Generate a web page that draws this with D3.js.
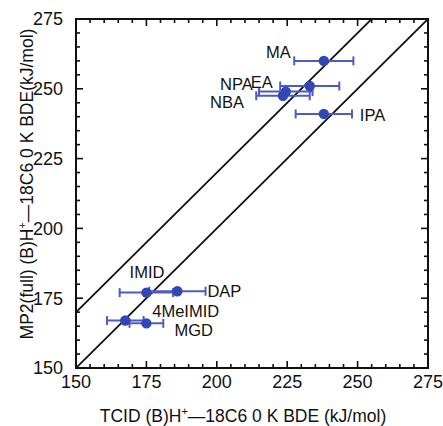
<!DOCTYPE html>
<html>
<head>
<meta charset="utf-8">
<script src="https://cdn.jsdelivr.net/npm/d3@7"></script>
<style>
  html, body { margin: 0; padding: 0; background: #fff; }
  svg { display: block; }
  text { font-family: "Liberation Sans", Arial, Helvetica, sans-serif; fill: #111; }
</style>
</head>
<body>
<svg id="chart" width="443" height="426"></svg>
<script>
// Compound labels and bond dissociation energies (kJ/mol)
const compounds = ["MA", "EA", "NPA", "NBA", "IPA", "IMID", "DAP", "4MeIMID", "MGD"];
const tcidBDE   = [238, 233, 224.5, 223.5, 238, 175, 186, 167.5, 175];
const tcidErr   = [10.5, 10.5, 9.5, 9.5, 10, 9.5, 10, 6.5, 6];
const mp2BDE    = [260, 251, 249, 247.5, 241, 177, 177.5, 167, 166];

const xTicks = [150, 175, 200, 225, 250, 275];
const yTicks = [150, 175, 200, 225, 250, 275];
const domain = [150, 275];
// Reference lines: perfect agreement, and the same shifted up
const lineOffsets = [0, 20];

// Label placement (pixels from each point)
const labelLayout = {
  "MA":      { dx: -33, dy: -2.5, anchor: "end" },
  "EA":      { dx: -37, dy: 1.5,  anchor: "end" },
  "NPA":     { dx: -33, dy: -1.5, anchor: "end" },
  "NBA":     { dx: -39, dy: 12.5, anchor: "end" },
  "IPA":     { dx: 36,  dy: 7.5,  anchor: "start" },
  "IMID":    { dx: 18,  dy: -14.5, anchor: "end" },
  "DAP":     { dx: 30,  dy: 5.5,  anchor: "start" },
  "4MeIMID": { dx: 27,  dy: -3.5, anchor: "start" },
  "MGD":     { dx: 28,  dy: 13,   anchor: "start" }
};

const margin = { left: 76, top: 19, right: 15, bottom: 58 };
const svg = d3.select("#chart");
const W = 443, H = 426;
const iw = W - margin.left - margin.right;
const ih = H - margin.top - margin.bottom;

const x = d3.scaleLinear().domain(domain).range([0, iw]);
const y = d3.scaleLinear().domain(domain).range([ih, 0]);

const g = svg.append("g").attr("transform", `translate(${margin.left},${margin.top})`);

svg.append("defs").append("clipPath").attr("id", "plotClip")
  .append("rect").attr("width", iw).attr("height", ih);

// Frame
g.append("rect").attr("width", iw).attr("height", ih)
  .attr("fill", "none").attr("stroke", "#111").attr("stroke-width", 2);

// Tick marks on all four sides, pointing inward (major every 25, minor every 5)
const tickVals = d3.range(150, 276, 5);
const tickLen = v => (v % 25 === 0 ? 7 : 4);
const tw = 1.6;
const ticks = g.append("g").attr("class", "ticks");
ticks.selectAll("rect.b").data(tickVals).join("rect").attr("class", "b")
  .attr("x", d => x(d) - tw / 2).attr("width", tw)
  .attr("y", d => ih - tickLen(d)).attr("height", d => tickLen(d));
ticks.selectAll("rect.t").data(tickVals).join("rect").attr("class", "t")
  .attr("x", d => x(d) - tw / 2).attr("width", tw)
  .attr("y", 0).attr("height", d => tickLen(d));
ticks.selectAll("rect.l").data(tickVals).join("rect").attr("class", "l")
  .attr("y", d => y(d) - tw / 2).attr("height", tw)
  .attr("x", 0).attr("width", d => tickLen(d));
ticks.selectAll("rect.r").data(tickVals).join("rect").attr("class", "r")
  .attr("y", d => y(d) - tw / 2).attr("height", tw)
  .attr("x", d => iw - tickLen(d)).attr("width", d => tickLen(d));
ticks.selectAll("rect").attr("fill", "#111");

// Tick labels
g.append("g").selectAll("text").data(xTicks).join("text")
  .attr("x", d => x(d)).attr("y", ih + 19.5)
  .attr("text-anchor", "middle").attr("font-size", 18).text(d => d);
g.append("g").selectAll("text").data(yTicks).join("text")
  .attr("x", -13).attr("y", d => y(d)).attr("dy", "0.35em")
  .attr("text-anchor", "end").attr("font-size", 18).text(d => d);

// Diagonal reference lines
g.append("g").attr("clip-path", "url(#plotClip)")
  .selectAll("line").data(lineOffsets).join("line")
  .attr("x1", x(domain[0] - 30)).attr("y1", d => y(domain[0] - 30 + d))
  .attr("x2", x(domain[1] + 30)).attr("y2", d => y(domain[1] + 30 + d))
  .attr("stroke", "#111").attr("stroke-width", 1.8);

// Horizontal error bars with caps
const pts = compounds.map((c, i) => ({ c, x: tcidBDE[i], e: tcidErr[i], y: mp2BDE[i] }));
const barColor = "#4d5cc0";
const eb = g.append("g").attr("stroke", barColor).attr("stroke-width", 2).attr("fill", "none");
pts.forEach(p => {
  const yy = y(p.y);
  eb.append("line").attr("x1", x(p.x - p.e)).attr("x2", x(p.x + p.e)).attr("y1", yy).attr("y2", yy);
  [p.x - p.e, p.x + p.e].forEach(v => {
    eb.append("line").attr("x1", x(v)).attr("x2", x(v)).attr("y1", yy - 4.5).attr("y2", yy + 4.5);
  });
});

// Points
g.append("g").selectAll("circle").data(pts).join("circle")
  .attr("cx", d => x(d.x)).attr("cy", d => y(d.y)).attr("r", 5.2)
  .attr("fill", "#3347b4");

// Point labels
g.append("g").selectAll("text").data(pts).join("text")
  .attr("x", d => x(d.x) + labelLayout[d.c].dx)
  .attr("y", d => y(d.y) + labelLayout[d.c].dy)
  .attr("text-anchor", d => labelLayout[d.c].anchor)
  .attr("font-size", 16.5)
  .text(d => d.c);

// Axis titles
const xt = svg.append("text").attr("x", 243).attr("y", 422)
  .attr("text-anchor", "middle").attr("font-size", 17.5);
xt.append("tspan").text("TCID (B)H");
xt.append("tspan").attr("font-size", 11).attr("dy", -7).text("+");
xt.append("tspan").attr("dy", 7).text("\u201418C6 0 K BDE (kJ/mol)");

const yt = svg.append("text").attr("transform", "translate(33,184) rotate(-90)")
  .attr("text-anchor", "middle").attr("font-size", 17.5);
yt.append("tspan").text("MP2(full) (B)H");
yt.append("tspan").attr("font-size", 11).attr("dy", -7).text("+");
yt.append("tspan").attr("dy", 7).text("\u201418C6 0 K BDE(kJ/mol)");
</script>
</body>
</html>
